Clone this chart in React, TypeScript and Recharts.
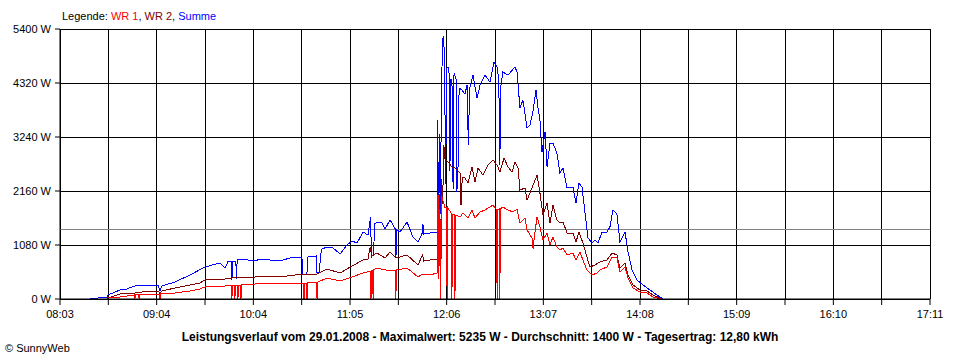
import {
  CartesianGrid,
  Line,
  LineChart,
  ReferenceLine,
  XAxis,
  YAxis,
} from 'recharts';

// minutes after 08:03, watts
const summe: [number, number][] = [
  [18.9, 0], [24, 20], [30, 40], [30.2, 80], [37.8, 180], [42, 200], [47.2, 260], [56.7, 280],
  [62, 260], [63, 160], [64, 260], [72.4, 340], [81.9, 480], [91.3, 640], [100.8, 720], [103.9, 620],
  [106, 760], [108.0, 760], [108.3, 380], [108.8, 760], [110.8, 760], [111.1, 400], [111.6, 780],
  [113.4, 800], [122.8, 760], [126, 800], [132.3, 780], [138.6, 760], [146.8, 840], [152.4, 840],
  [152.8, 500], [155.5, 500], [156.2, 840], [161.6, 860], [161.9, 520], [163.5, 540], [164, 880],
  [165, 1000], [168.2, 1040], [172, 1020], [176.4, 900], [180.8, 1080], [183.9, 1160], [187.1, 1120],
  [190.9, 1340], [194, 1280], [195.6, 1640], [196.2, 840], [197.5, 900], [198.2, 1500], [199.7, 1540],
  [202.8, 1520], [204.7, 1400], [207.9, 1580], [211.2, 1400], [211.6, 820], [212.2, 1380], [214.2, 1340],
  [218.6, 1540], [222.3, 1240], [225.5, 1140], [228.2, 1320], [228.6, 1500], [229.2, 1300], [233.1, 1320],
  [237.5, 1340], [237.9, 3580], [238.4, 1500], [239.0, 3300], [239.5, 1700], [240.3, 4000], [240.9, 5200],
  [241.6, 5235], [242.2, 4820], [242.9, 2300], [243.6, 4620], [245, 4640], [245.6, 2560], [246.2, 4400],
  [246.9, 4340], [247.6, 2200], [248.2, 4520], [249.5, 4400], [250.0, 2140], [250.7, 2620], [251.4, 4220],
  [253.2, 4180], [255.1, 4100], [256.4, 4280], [257.2, 3080], [258.0, 4200], [260.1, 4480], [262.7, 4020],
  [264.6, 4280], [267.7, 4480], [270.8, 4340], [273.4, 4740], [275.3, 4640], [276.4, 4400], [277.0, 2680],
  [277.8, 4300], [279, 4540], [282.2, 4480], [286.6, 4640], [287.9, 4540], [289.7, 3820], [291.6, 3980],
  [294.2, 3420], [296, 3480], [297.9, 3740], [299.8, 4180], [301.1, 3820], [302.3, 3580], [303.6, 2940],
  [305.5, 3340], [306.8, 2640], [308.6, 3120], [310.5, 3120], [313, 2920], [314.9, 2520], [316.8, 2620],
  [319.4, 2220], [323.1, 2240], [325, 1920], [326.9, 2320], [328.8, 2240], [330.7, 1720], [332.6, 1220],
  [335.1, 1120], [337, 1180], [338.9, 1120], [341.4, 1340], [344.5, 1340], [346.4, 1440], [348.3, 1780],
  [350.8, 1700], [352.7, 1140], [355.9, 1340], [357.8, 940], [360.3, 580], [363.4, 380], [367.2, 280],
  [371.6, 180], [376, 80], [379.8, 0],
];

const wr2: [number, number][] = [
  [30.0, 0], [30.2, 20], [37.8, 100], [47.2, 120], [56.7, 160], [62, 160], [63, 100], [64, 160],
  [72.4, 220], [81.9, 280], [88, 320], [91.3, 380], [103.9, 400], [113.4, 440], [122.8, 440], [126, 460],
  [138.6, 440], [152.4, 500], [161.9, 500], [168.2, 600], [176.4, 520], [183.9, 660], [190.9, 780],
  [194, 800], [195.4, 1040], [196.3, 860], [199.7, 920], [204.7, 820], [207.9, 940], [211.6, 820],
  [218.6, 880], [225.5, 680], [228.3, 880], [229.2, 760], [233.1, 780], [237.5, 800], [238.0, 1400],
  [238.5, 900], [239.0, 2100], [239.6, 800], [240.4, 2400], [241.0, 1900], [241.8, 3080], [242.5, 2800],
  [244.4, 2740], [246.9, 2640], [248.8, 2620], [252, 2520], [252.6, 1880], [253.4, 2440], [255.1, 2420],
  [257, 2320], [259.5, 2640], [261.4, 2340], [263.3, 2620], [266.4, 2480], [269.6, 2680], [272.7, 2780],
  [275.3, 2680], [277.1, 2540], [279.7, 2820], [282.2, 2640], [284.7, 2540], [286.6, 2740], [288.5, 2620],
  [289.7, 2180], [292.9, 2220], [294.2, 1980], [297.3, 2220], [300.5, 2480], [302.3, 2120], [304.2, 1680],
  [306.8, 1920], [308.6, 1520], [310.5, 1880], [313, 1580], [314.9, 1520], [316.8, 1540], [319.4, 1320],
  [323.1, 1320], [325, 1140], [326.9, 1340], [329.4, 1120], [331.9, 840], [333.8, 640], [337, 680],
  [340.1, 740], [344.5, 780], [347.7, 920], [350.8, 880], [352.7, 620], [355.9, 720], [357.8, 480],
  [360.9, 280], [365.3, 180], [369.7, 160], [373.5, 80], [379.2, 0],
];

const wr1: [number, number][] = [
  [30.0, 0], [30.2, 20], [37.8, 40], [47.0, 80], [47.2, 0], [47.5, 80], [49.6, 90], [49.8, 0], [50.0, 90],
  [56.7, 100], [62, 100], [62.8, 90], [63.0, 0], [63.3, 100], [72.4, 120], [81.9, 160], [88, 200],
  [91.3, 240], [103.9, 260], [108.1, 270], [108.3, 0], [108.5, 270], [110.0, 270], [110.2, 0], [110.4, 270],
  [111.9, 275], [112.1, 0], [112.3, 275], [113.8, 280], [114.0, 0], [114.2, 280], [122.8, 300], [126, 320],
  [138.6, 300], [152.4, 320], [153.5, 320], [153.7, 0], [153.9, 320], [155.4, 320], [155.6, 0], [155.8, 320],
  [161.7, 330], [161.9, 0], [162.3, 0], [162.5, 340], [168.2, 420], [176.4, 360], [183.9, 440], [190.9, 520],
  [195.7, 560], [195.9, 0], [196.1, 560], [197.0, 580], [197.2, 0], [197.4, 580], [199.7, 620], [207.9, 560],
  [211.4, 580], [211.6, 0], [211.8, 580], [218.6, 620], [225.5, 440], [228.6, 500], [233.1, 480],
  [237.5, 520], [238.1, 2080], [238.6, 400], [239.3, 1800], [239.8, 0], [240.3, 2080], [242.5, 1820],
  [243.6, 1840], [243.8, 0], [244.0, 1840], [246.7, 1700], [246.9, 0], [247.1, 1700], [248.6, 1680],
  [248.8, 0], [249.0, 1680], [252, 1640], [253.8, 1720], [257, 1620], [259.5, 1780], [261.4, 1620],
  [264.6, 1740], [267.7, 1780], [270.8, 1840], [272.7, 1880], [275.1, 1780], [275.3, 0], [275.5, 1780],
  [276.9, 1800], [277.1, 0], [277.3, 1800], [279, 1840], [282.2, 1780], [285.3, 1740], [287.9, 1800],
  [289.7, 1520], [292.9, 1620], [294.2, 1380], [297.3, 1220], [298, 1000], [299, 1300], [300.5, 1640],
  [302.3, 1440], [304.2, 1180], [306.8, 1320], [308.6, 1080], [310.5, 1240], [313, 1040], [314.9, 980],
  [316.8, 1020], [319.4, 880], [323.1, 920], [325, 780], [327.5, 940], [329.4, 780], [331.9, 580],
  [335.1, 480], [338.2, 520], [340.1, 580], [344.5, 640], [347.7, 840], [350.8, 820], [352.7, 540],
  [355.9, 640], [357.8, 420], [360.9, 220], [365.3, 140], [369.7, 120], [373.5, 40], [379.2, 0],
];

const xTickLabels = ['08:03', '09:04', '10:04', '11:05', '12:06', '13:07', '14:08', '15:09', '16:10', '17:11'];
const yTicks = [0, 1080, 2160, 3240, 4320, 5400];
const spanMinutes = 548; // 08:03 .. 17:11
const avgWatts = 1400;

const xTicks = Array.from({ length: 19 }, (_, i) => (i * spanMinutes) / 18);
const toRows = (pts: [number, number][]) => pts.map(([t, w]) => ({ t, w }));

const font = '"Liberation Sans", Arial, sans-serif';

export default function App() {
  return (
    <div
      style={{
        position: 'absolute',
        left: 0,
        top: 0,
        width: 960,
        height: 360,
        background: '#fff',
        fontFamily: font,
        color: '#000',
      }}
    >
      <div style={{ position: 'absolute', left: 62, top: 10, fontSize: 11 }}>
        Legende: <span style={{ color: '#ff0000' }}>WR 1</span>,{' '}
        <span style={{ color: '#800000' }}>WR 2</span>,{' '}
        <span style={{ color: '#0000ff' }}>Summe</span>
      </div>
      <LineChart
        width={960}
        height={360}
        margin={{ top: 29, right: 30, left: 0, bottom: 0 }}
        style={{ fontFamily: font }}
      >
        <CartesianGrid stroke="#000" strokeOpacity={1} shapeRendering="crispEdges" />
        <XAxis
          type="number"
          dataKey="t"
          domain={[0, spanMinutes]}
          ticks={xTicks}
          interval={0}
          tickFormatter={(_v: number, i: number) => (i % 2 === 0 ? xTickLabels[i / 2] : '')}
          height={61}
          tickSize={6}
          tickMargin={5}
          axisLine={{ stroke: '#000' }}
          tickLine={{ stroke: '#000' }}
          tick={{ fill: '#000', fontSize: 11 }}
          allowDataOverflow
        />
        <YAxis
          type="number"
          domain={[0, 5400]}
          ticks={yTicks}
          interval={0}
          width={60}
          tickSize={5}
          tickMargin={4}
          tickFormatter={(v: number) => `${v} W`}
          axisLine={{ stroke: '#000' }}
          tickLine={{ stroke: '#000' }}
          tick={{ fill: '#000', fontSize: 11 }}
        />
        <ReferenceLine y={avgWatts} stroke="#808080" shapeRendering="crispEdges" />
        <Line
          data={toRows(summe)}
          dataKey="w"
          type="linear"
          stroke="#0000ff"
          strokeWidth={1}
          shapeRendering="crispEdges"
          dot={false}
          activeDot={false}
          isAnimationActive={false}
        />
        <Line
          data={toRows(wr2)}
          dataKey="w"
          type="linear"
          stroke="#800000"
          strokeWidth={1}
          shapeRendering="crispEdges"
          dot={false}
          activeDot={false}
          isAnimationActive={false}
        />
        <Line
          data={toRows(wr1)}
          dataKey="w"
          type="linear"
          stroke="#ff0000"
          strokeWidth={1}
          shapeRendering="crispEdges"
          dot={false}
          activeDot={false}
          isAnimationActive={false}
        />
      </LineChart>
      <div
        style={{
          position: 'absolute',
          left: 0,
          top: 330,
          width: 960,
          textAlign: 'center',
          fontSize: 12,
          fontWeight: 'bold',
        }}
      >
        Leistungsverlauf vom 29.01.2008 - Maximalwert: 5235 W - Durchschnitt: 1400 W - Tagesertrag: 12,80 kWh
      </div>
      <div style={{ position: 'absolute', left: 5, top: 342, fontSize: 11 }}>© SunnyWeb</div>
    </div>
  );
}
